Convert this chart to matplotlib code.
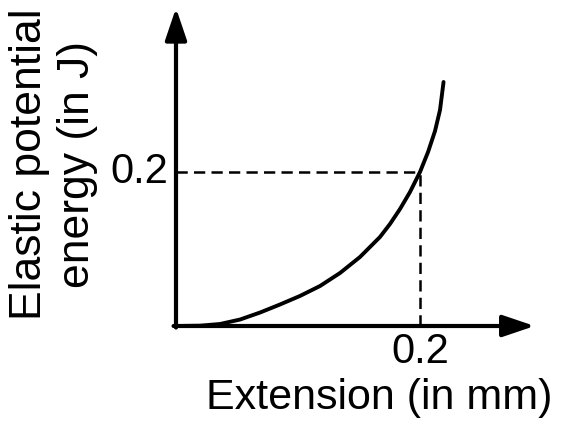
import matplotlib
matplotlib.use('Agg')
import matplotlib.pyplot as plt

plt.rcParams['font.family'] = ['Liberation Sans', 'DejaVu Sans']

# curve (extension in mm, energy in J)
ext = [0.0, 0.0197, 0.0361, 0.0525, 0.0689, 0.0852, 0.1016, 0.118, 0.1344, 0.1508,
       0.1672, 0.1754, 0.1836, 0.1918, 0.200, 0.2066, 0.2123, 0.2164, 0.2193]
energy = [0.0, 0.0004, 0.0026, 0.0084, 0.0175, 0.0279, 0.039, 0.0519, 0.0688, 0.0896,
          0.1156, 0.1325, 0.1519, 0.174, 0.200, 0.226, 0.2532, 0.2805, 0.3169]

mark_x = 0.2
mark_y = 0.2
xlabel = 'Extension (in mm)'
ylabel = 'Elastic potential\nenergy (in J)'

fig = plt.figure(figsize=(5.63, 4.24), dpi=100)
ax = fig.add_axes([0, 0, 1, 1])
ax.set_xlim(-0.14426, 0.31721)
ax.set_ylim(-0.12727, 0.42338)
ax.axis('off')

arrow = dict(arrowstyle='-|>,head_length=0.65,head_width=0.22', lw=3, color='k',
             mutation_scale=30, shrinkA=0, shrinkB=0)
ax.annotate('', xy=(0, 0.413), xytext=(0, -0.002), arrowprops=arrow)
ax.annotate('', xy=(0.294, 0), xytext=(-0.002, 0), arrowprops=arrow)

ax.plot(ext, energy, color='k', lw=2.8, solid_capstyle='round', solid_joinstyle='round')

ax.plot([0, mark_x], [mark_y, mark_y], color='k', lw=1.8, dashes=(4.5, 2.5))
ax.plot([mark_x, mark_x], [0, mark_y], color='k', lw=1.8, dashes=(4.5, 2.5))

ax.text(-0.0065, mark_y, '0.2', fontsize=30, ha='right', va='center')
ax.text(mark_x, -0.034, '0.2', fontsize=30, ha='center', va='center')
ax.text(0.1663, -0.0935, xlabel, fontsize=31, ha='center', va='center')
ax.text(-0.1005, 0.21, ylabel, fontsize=32, ha='center', va='center',
        rotation=90, linespacing=1.2)

fig.savefig('out.png', dpi=100)
